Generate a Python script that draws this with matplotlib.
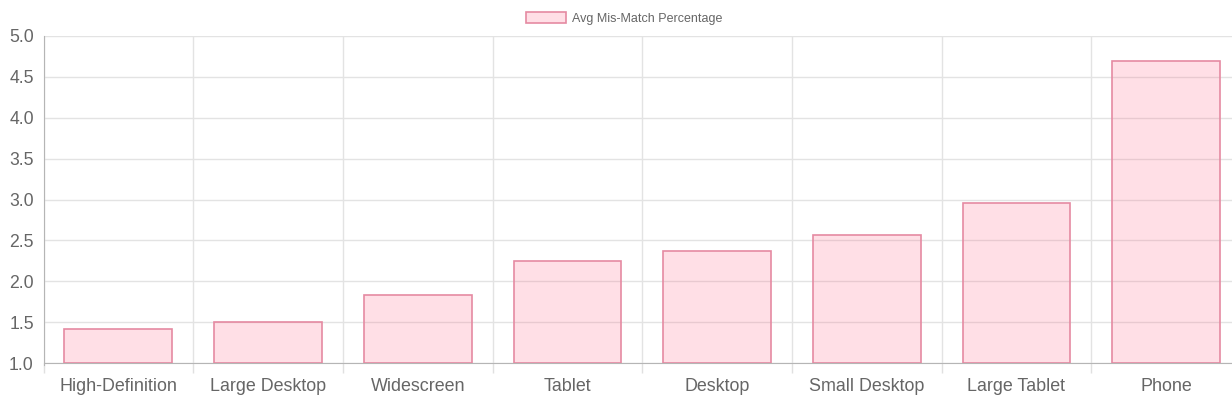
import matplotlib.pyplot as plt
from matplotlib.ticker import FixedLocator
import numpy as np

# Data
categories = ['High-Definition', 'Large Desktop', 'Widescreen', 'Tablet',
              'Desktop', 'Small Desktop', 'Large Tablet', 'Phone']
mismatch = [1.42, 1.50, 1.83, 2.25, 2.37, 2.56, 2.96, 4.70]
series_label = 'Avg Mis-Match Percentage'
y_ticks = [1.0, 1.5, 2.0, 2.5, 3.0, 3.5, 4.0, 4.5, 5.0]

plt.rcParams['font.family'] = ['Liberation Sans', 'DejaVu Sans']

W, H = 1232, 407
fig = plt.figure(figsize=(W / 100, H / 100), dpi=100)
# plot area runs slightly past the right edge, as in the reference
ax = fig.add_axes([43.5 / W, (H - 363) / H, (1241 - 43.5) / W, (363 - 36) / H])

x = np.arange(len(categories))
ax.bar(x, [v - 1.0 for v in mismatch], bottom=1.0, width=0.72,
       color=(1.0, 0.388, 0.518, 0.2), edgecolor='#e58aa2', linewidth=1.2,
       label=series_label, zorder=3)

ax.set_xlim(-0.5, len(categories) - 0.5)
ax.set_ylim(1.0, 5.0)

# y axis
ax.set_yticks(y_ticks)
ax.set_yticklabels(['%.1f' % t for t in y_ticks])
ax.tick_params(axis='y', length=0, pad=7, labelsize=12.7, labelcolor='#666666')
ax.yaxis.grid(True, color='#e3e3e3', linewidth=1, zorder=0)

# x axis: labels at centers, grid lines at category boundaries
ax.set_xticks(x)
ax.set_xticklabels(categories)
ax.tick_params(axis='x', which='major', length=0, pad=11, labelsize=12.9,
               labelcolor='#666666')
ax.xaxis.set_minor_locator(FixedLocator(np.arange(-0.5, len(categories), 1.0)))
ax.tick_params(axis='x', which='minor', length=7.2, color='#e0e0e0', width=1)
ax.xaxis.grid(True, which='minor', color='#e3e3e3', linewidth=1, zorder=0)

for side in ['top', 'right']:
    ax.spines[side].set_visible(False)
ax.spines['left'].set_color('#b5b5b5')
ax.spines['bottom'].set_color('#b5b5b5')
ax.spines['left'].set_bounds(0.97, 5.0)
ax.set_axisbelow(True)

# legend at top
fig.legend(loc='center', bbox_to_anchor=(624 / W, 1 - 18.5 / H), frameon=False,
           fontsize=9, labelcolor='#666666', handlelength=3.2,
           handleheight=0.9, handletextpad=0.5)

fig.savefig('out.png', dpi=100, facecolor='white')
